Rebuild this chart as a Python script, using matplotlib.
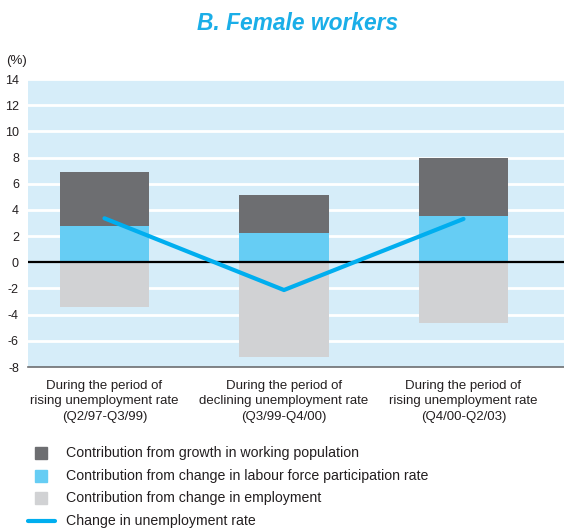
import matplotlib
matplotlib.use("Agg")
import matplotlib.pyplot as plt
from matplotlib.patches import Rectangle
from matplotlib.lines import Line2D

plt.rcParams['font.family'] = ['Liberation Sans', 'DejaVu Sans']

categories = ["During the period of\nrising unemployment rate\n(Q2/97-Q3/99)",
              "During the period of\ndeclining unemployment rate\n(Q3/99-Q4/00)",
              "During the period of\nrising unemployment rate\n(Q4/00-Q2/03)"]
participation = [2.77, 2.24, 3.54]
working_pop = [4.13, 2.90, 4.43]
employment = [-3.39, -7.21, -4.61]
unemp_change = [3.36, -2.12, 3.31]
yticks = [14, 12, 10, 8, 6, 4, 2, 0, -2, -4, -6, -8]
legend_labels = ["Contribution from growth in working population",
                 "Contribution from change in labour force participation rate",
                 "Contribution from change in employment",
                 "Change in unemployment rate"]

c_dark = "#6d6e71"
c_blue = "#66cdf4"
c_gray = "#d1d2d4"
c_line = "#00aeef"
c_bg = "#d6edf9"
c_text = "#231f20"

W, H = 564, 528
fig = plt.figure(figsize=(W / 100, H / 100), dpi=100)
ax = fig.add_axes([28 / W, (H - 367) / H, (W - 28) / W, (367 - 79) / H])
ax.set_facecolor(c_bg)

x = list(range(len(categories)))
bw = 0.5
for yv in yticks:
    if yv not in (0, -8):
        ax.axhline(yv, color="white", lw=2.0, zorder=1)
ax.bar(x, participation, width=bw, color=c_blue, zorder=2)
ax.bar(x, working_pop, bottom=participation, width=bw, color=c_dark, zorder=2)
ax.bar(x, employment, width=bw, color=c_gray, zorder=2)
ax.axhline(0, color="black", lw=1.6, zorder=3)
ax.plot(x, unemp_change, color=c_line, lw=3.0, solid_capstyle="round", zorder=4)

ax.set_ylim(-8, 14)
ax.set_xlim(-0.426, 2.56)
ax.set_yticks(yticks)
ax.set_yticklabels([str(v) for v in yticks], fontsize=9, color=c_text)
ax.tick_params(axis="y", length=0, pad=6.5)
ax.set_xticks(x)
ax.set_xticklabels(categories, fontsize=9.5, color=c_text, linespacing=1.43)
ax.tick_params(axis="x", length=0, pad=9)
for s in ["top", "right", "left"]:
    ax.spines[s].set_visible(False)
ax.spines["bottom"].set_color("#6d6e71")
ax.spines["bottom"].set_linewidth(1.2)

fig.text(297.5 / W, 1 - 23 / H, "B. Female workers", ha="center", va="center",
         fontsize=16.4, fontweight="bold", fontstyle="italic", color="#1aaee8")
fig.text(6 / W, 1 - 61 / H, "(%)", ha="left", va="center", fontsize=9.5, color=c_text)

rows = [453, 476, 498, 521]
colors = [c_dark, c_blue, c_gray]
for i, lab in enumerate(legend_labels):
    yc = rows[i]
    if i < 3:
        fig.add_artist(Rectangle((35 / W, 1 - (yc + 6) / H), 12 / W, 12 / H,
                                 transform=fig.transFigure, color=colors[i]))
    else:
        fig.add_artist(Line2D([28 / W, 55 / W], [1 - yc / H, 1 - yc / H],
                              transform=fig.transFigure, color=c_line, lw=3,
                              solid_capstyle="round"))
    fig.text(66 / W, 1 - yc / H, lab, ha="left", va="center", fontsize=10.15, color=c_text)

fig.savefig("out.png", dpi=100)
